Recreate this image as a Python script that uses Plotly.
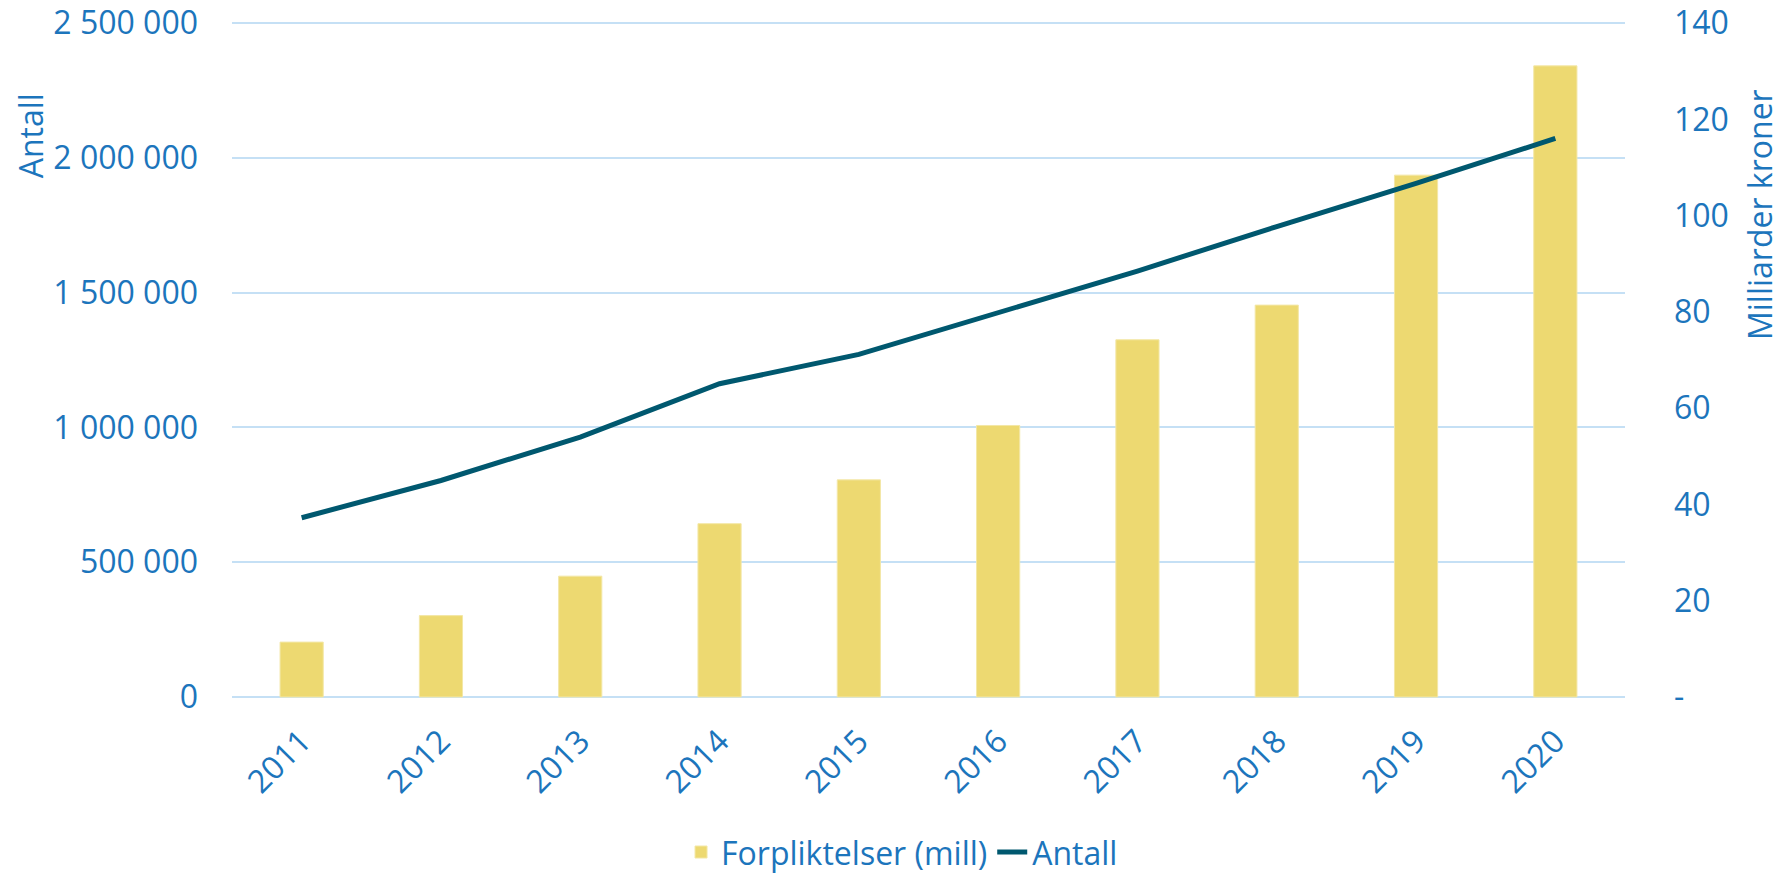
import plotly.graph_objects as go

years = ["2011", "2012", "2013", "2014", "2015", "2016", "2017", "2018", "2019", "2020"]
forpliktelser = [11.4, 16.9, 25.1, 36.0, 45.1, 56.4, 74.2, 81.4, 108.4, 131.1]  # milliarder kroner
antall = [665000, 803000, 964000, 1162000, 1271000, 1425000, 1580000, 1745000, 1905000, 2072000]

right_tickvals = [0, 20, 40, 60, 80, 100, 120, 140]
right_ticktext = ["-", "20", "40", "60", "80", "100", "120", "140"]

TXT = "#1C75BC"
GRID = "#C5E0F5"
FONT = "Open Sans"
FS = 32

# small padding so that the edge gridlines (0 and 2 500 000) are drawn
PAD = 0.003

fig = go.Figure()
fig.add_trace(go.Bar(
    x=years, y=forpliktelser, name="Forpliktelser (mill)",
    marker=dict(color="#EDD971", line=dict(color="#F3E7A6", width=1)),
    yaxis="y",
))
fig.add_trace(go.Scatter(
    x=years, y=antall, name="Antall", mode="lines",
    line=dict(color="#00586F", width=5),
    yaxis="y2",
))

fig.update_layout(
    width=1784, height=874,
    margin=dict(l=232, r=159, t=21, b=175, autoexpand=False),
    paper_bgcolor="white", plot_bgcolor="white",
    separators=", ",
    font=dict(family=FONT, size=FS, color=TXT),
    bargap=0.69,
    showlegend=True,
    legend=dict(orientation="h", x=0.481, xanchor="center", y=-0.226, yanchor="middle",
                font=dict(family=FONT, size=FS, color=TXT), traceorder="normal"),
    xaxis=dict(type="category", tickangle=-45, showgrid=False, showline=False,
               ticks="", automargin=False, ticklabelstandoff=16,
               tickfont=dict(size=FS, color=TXT)),
    yaxis=dict(side="right", range=[-140 * PAD, 140 * (1 + PAD)],
               tickvals=right_tickvals, ticktext=right_ticktext,
               showgrid=False, zeroline=False, showline=False, ticks="", automargin=False,
               ticklabeloverflow="allow",
               ticklabelstandoff=48, tickfont=dict(size=FS, color=TXT)),
    yaxis2=dict(side="left", overlaying="y", range=[-2500000 * PAD, 2500000 * (1 + PAD)],
                dtick=500000, tick0=0,
                tickformat=",d", showgrid=True, gridcolor=GRID, gridwidth=2,
                zeroline=False, showline=False, ticks="", automargin=False,
                ticklabeloverflow="allow",
                ticklabelstandoff=33, tickfont=dict(size=FS, color=TXT)),
    annotations=[
        dict(text="Antall", xref="paper", yref="paper", x=-0.145, y=0.830,
             xanchor="center", yanchor="middle", textangle=-90, showarrow=False,
             font=dict(family=FONT, size=FS, color=TXT)),
        dict(text="Milliarder kroner", xref="paper", yref="paper", x=1.097, y=0.714,
             xanchor="center", yanchor="middle", textangle=-90, showarrow=False,
             font=dict(family=FONT, size=FS, color=TXT)),
    ],
)

fig.write_html("out.html", config={"displayModeBar": False},
               post_script="document.body.style.margin='0';")
